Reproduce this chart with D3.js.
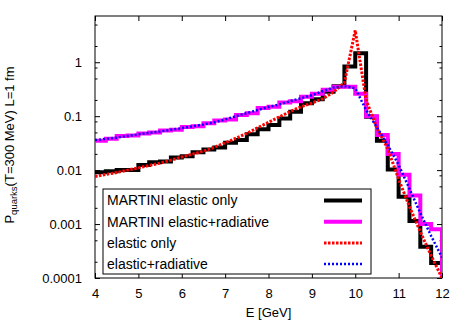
<!DOCTYPE html>
<html>
<head>
<meta charset="utf-8">
<script src="https://cdn.jsdelivr.net/npm/d3@7"></script>
<style>
  body { margin: 0; background: #fff; }
  svg text { font-family: "Liberation Sans", Arial, sans-serif; fill: #000; }
</style>
</head>
<body>
<svg id="chart" width="463" height="324"></svg>
<script>
// histogram bins (left edges, width 0.25 GeV) - MARTINI results
const binLo = [4, 4.25, 4.5, 4.75, 5, 5.25, 5.5, 5.75, 6, 6.25, 6.5, 6.75, 7, 7.25, 7.5, 7.75,
  8, 8.25, 8.5, 8.75, 9, 9.25, 9.5, 9.75, 10, 10.25, 10.5, 10.75, 11, 11.25, 11.5, 11.75];
const binEnd = 12;
const martiniElastic = [0.0091, 0.0095, 0.0100, 0.0101, 0.0124, 0.0140, 0.0145, 0.0172, 0.0180, 0.0215,
  0.024, 0.0263, 0.0323, 0.036, 0.046, 0.057, 0.069, 0.091, 0.121, 0.174, 0.206, 0.285, 0.36, 0.83,
  1.47, 0.098, 0.035, 0.0103, 0.0032, 0.00114, 0.00038, 0.00019];
const martiniRadiative = [0.035, 0.038, 0.043, 0.044, 0.048, 0.050, 0.054, 0.056, 0.063, 0.065,
  0.074, 0.083, 0.087, 0.105, 0.113, 0.142, 0.150, 0.18, 0.19, 0.23, 0.26, 0.31, 0.35, 0.35,
  0.26, 0.10, 0.045, 0.020, 0.0082, 0.0034, 0.001, 0.0008];

// smooth curves, sampled every 0.25 GeV
const energy = [4, 4.25, 4.5, 4.75, 5, 5.25, 5.5, 5.75, 6, 6.25, 6.5, 6.75, 7, 7.25, 7.5, 7.75,
  8, 8.25, 8.5, 8.75, 9, 9.25, 9.5, 9.75, 10, 10.25, 10.5, 10.75, 11, 11.25, 11.5, 11.75, 12];
const elasticOnly = [0.0076, 0.0083, 0.0090, 0.0100, 0.0110, 0.0122, 0.0135, 0.0153, 0.0175, 0.0198,
  0.0225, 0.0265, 0.032, 0.039, 0.048, 0.061, 0.077, 0.097, 0.122, 0.15, 0.175, 0.21, 0.28, 0.42,
  3.9, 0.2, 0.06, 0.025, 0.0068, 0.0021, 0.00072, 0.00026, 0.0001];
const elasticRadiative = [0.036, 0.038, 0.040, 0.043, 0.046, 0.049, 0.052, 0.056, 0.060, 0.065,
  0.070, 0.077, 0.087, 0.10, 0.114, 0.13, 0.148, 0.165, 0.19, 0.215, 0.245, 0.29, 0.34, 0.36,
  0.33, 0.13, 0.062, 0.029, 0.0125, 0.0045, 0.0016, 0.0006, 0.00024];

const xTicks = [4, 5, 6, 7, 8, 9, 10, 11, 12];
const yTicks = [0.0001, 0.001, 0.01, 0.1, 1];
const yTickLabels = ["0.0001", "0.001", "0.01", "0.1", "1"];
const yMinorTicks = [0.0002, 0.0005, 0.0008, 0.002, 0.005, 0.008, 0.02, 0.05, 0.08,
  0.2, 0.5, 0.8, 2, 5];
const legendLabels = ["MARTINI elastic only", "MARTINI elastic+radiative", "elastic only", "elastic+radiative"];

let svg = d3.select("#chart");
let plot = { left: 95, top: 16, right: 442, bottom: 278 };

let x = d3.scaleLinear().domain([4, 12]).range([plot.left, plot.right]);
let y = d3.scaleLog().domain([0.0001, 7.2]).range([plot.bottom, plot.top]);

svg.append("clipPath").attr("id", "plot-clip")
  .append("rect")
  .attr("x", plot.left).attr("y", plot.top)
  .attr("width", plot.right - plot.left).attr("height", plot.bottom - plot.top);

/** axes: ticks point inward, labels only bottom/left */
function styleAxis(g) {
  g.select(".domain").remove();
  g.selectAll(".tick line").attr("stroke", "#000");
  g.selectAll(".tick text").attr("font-size", 13).attr("font-family", "Liberation Sans, Arial, sans-serif");
}

svg.append("g")
  .attr("transform", "translate(0," + plot.bottom + ")")
  .call(d3.axisBottom(x).tickValues(xTicks).tickFormat(d3.format("d")).tickSizeInner(-5).tickSizeOuter(0).tickPadding(11))
  .call(styleAxis);
svg.append("g")
  .attr("transform", "translate(0," + plot.top + ")")
  .call(d3.axisTop(x).tickValues(xTicks).tickFormat("").tickSizeInner(-5).tickSizeOuter(0))
  .call(styleAxis);
svg.append("g")
  .attr("transform", "translate(" + plot.left + ",0)")
  .call(d3.axisLeft(y).tickValues(yTicks).tickFormat((d, i) => yTickLabels[i]).tickSizeInner(-5).tickSizeOuter(0).tickPadding(13))
  .call(styleAxis);
svg.append("g")
  .attr("transform", "translate(" + plot.right + ",0)")
  .call(d3.axisRight(y).tickValues(yTicks).tickFormat("").tickSizeInner(-5).tickSizeOuter(0))
  .call(styleAxis);
// minor ticks
svg.append("g")
  .attr("transform", "translate(" + plot.left + ",0)")
  .call(d3.axisLeft(y).tickValues(yMinorTicks).tickFormat("").tickSizeInner(-2.5).tickSizeOuter(0))
  .call(styleAxis);
svg.append("g")
  .attr("transform", "translate(" + plot.right + ",0)")
  .call(d3.axisRight(y).tickValues(yMinorTicks).tickFormat("").tickSizeInner(-2.5).tickSizeOuter(0))
  .call(styleAxis);

// frame
svg.append("rect")
  .attr("x", plot.left).attr("y", plot.top)
  .attr("width", plot.right - plot.left).attr("height", plot.bottom - plot.top)
  .attr("fill", "none").attr("stroke", "#000").attr("stroke-width", 1);

// axis titles
svg.append("text")
  .attr("x", (plot.left + plot.right) / 2).attr("y", 317)
  .attr("text-anchor", "middle").attr("font-size", 13)
  .text("E [GeV]");
let yTitle = svg.append("text")
  .attr("transform", "translate(14,145) rotate(-90)")
  .attr("text-anchor", "middle").attr("font-size", 13);
yTitle.append("tspan").text("P");
yTitle.append("tspan").attr("font-size", 9.5).attr("dy", 3).text("quarks");
yTitle.append("tspan").attr("dy", -3).text("(T=300 MeV) L=1 fm");

/** step outline of a histogram, dropping to the bottom at the last edge */
function histPoints(values) {
  let pts = binLo.map((e, i) => [e, values[i]]);
  pts.push([binEnd, values[values.length - 1]]);
  pts.push([binEnd, y.domain()[0]]);
  return pts;
}

let stepLine = d3.line().x(d => x(d[0])).y(d => y(d[1])).curve(d3.curveStepAfter);
let curveLine = d3.line().x(d => x(d[0])).y(d => y(d[1]));

let series = [
  { pts: histPoints(martiniElastic), line: stepLine, color: "#000000", width: 4, dash: null },
  { pts: histPoints(martiniRadiative), line: stepLine, color: "#ff00ff", width: 4, dash: null },
  { pts: energy.map((e, i) => [e, elasticOnly[i]]), line: curveLine, color: "#ff0000", width: 3, dash: "2.5,1.5" },
  { pts: energy.map((e, i) => [e, elasticRadiative[i]]), line: curveLine, color: "#0000ff", width: 2.5, dash: "2,2" }
];

let gData = svg.append("g").attr("clip-path", "url(#plot-clip)");
series.forEach(s => {
  gData.append("path")
    .attr("d", s.line(s.pts))
    .attr("fill", "none")
    .attr("stroke", s.color)
    .attr("stroke-width", s.width)
    .attr("stroke-dasharray", s.dash)
    .attr("stroke-linejoin", "miter");
});

// legend
let legend = svg.append("g");
legend.append("rect")
  .attr("x", 103).attr("y", 189).attr("width", 268).attr("height", 85)
  .attr("fill", "#fff").attr("stroke", "#000").attr("stroke-width", 1);
legendLabels.forEach((label, i) => {
  let cy = 200.5 + i * 21.2;
  legend.append("text")
    .attr("x", 107).attr("y", cy).attr("dy", "0.35em")
    .attr("font-size", 14)
    .text(label);
  legend.append("line")
    .attr("x1", 324).attr("x2", 362).attr("y1", cy).attr("y2", cy)
    .attr("stroke", series[i].color)
    .attr("stroke-width", series[i].width)
    .attr("stroke-dasharray", series[i].dash);
});
</script>
</body>
</html>
